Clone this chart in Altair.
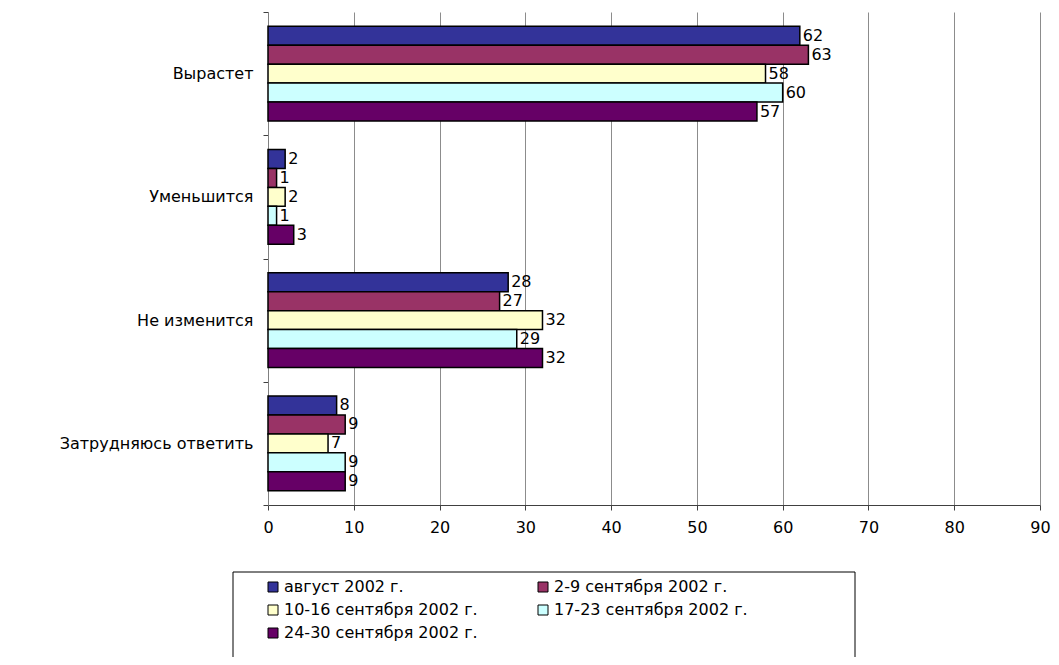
import altair as alt
import pandas as pd

categories = ["Вырастет", "Уменьшится", "Не изменится", "Затрудняюсь ответить"]
series = ["август 2002 г.", "2-9 сентября 2002 г.", "10-16 сентября 2002 г.",
          "17-23 сентября 2002 г.", "24-30 сентября 2002 г."]
colors = ["#333399", "#993366", "#FFFFCC", "#CCFFFF", "#660066"]

v_aug = [62, 2, 28, 8]
v_2_9 = [63, 1, 27, 9]
v_10_16 = [58, 2, 32, 7]
v_17_23 = [60, 1, 29, 9]
v_24_30 = [57, 3, 32, 9]
all_values = [v_aug, v_2_9, v_10_16, v_17_23, v_24_30]

rows = []
for s, vals in zip(series, all_values):
    for c, v in zip(categories, vals):
        rows.append({"cat": c, "series": s, "value": v})
df = pd.DataFrame(rows)

FONT = "DejaVu Sans"

y_enc = alt.Y("cat:N", sort=categories, title=None,
              scale=alt.Scale(paddingInner=0, paddingOuter=0),
              axis=alt.Axis(tickBand="extent", labelFontSize=16, labelFont=FONT,
                            labelColor="black", labelPadding=10, tickSize=5,
                            domainColor="#808080", tickColor="#404040",
                            labelLimit=400, grid=False))
yoff = alt.YOffset("series:N", sort=series,
                   scale=alt.Scale(paddingInner=0, paddingOuter=0.75))
x_enc = alt.X("value:Q", title=None,
              scale=alt.Scale(domain=[0, 90], nice=False),
              axis=alt.Axis(values=list(range(0, 91, 10)), grid=True,
                            gridColor="#8c8c8c", gridWidth=1,
                            domainColor="#404040", tickColor="#404040",
                            tickSize=5, labelFontSize=16, labelFont=FONT,
                            labelColor="black", labelPadding=9, labelFlush=False))

bars = alt.Chart(df).mark_bar(stroke="black", strokeWidth=1.5, opacity=1).encode(
    x=x_enc, y=y_enc, yOffset=yoff,
    color=alt.Color("series:N", sort=series,
                    scale=alt.Scale(domain=series, range=colors),
                    legend=alt.Legend(title=None, orient="none", legendX=-3, legendY=567,
                                      direction="horizontal",
                                      columns=2, columnPadding=57, rowPadding=7,
                                      symbolType="square", symbolSize=100,
                                      symbolStrokeColor="black", symbolStrokeWidth=1,
                                      symbolOpacity=1, labelFontSize=16, labelFont=FONT,
                                      labelColor="black", labelOffset=3, padding=0,
                                      labelLimit=400))
)

labels = alt.Chart(df).mark_text(align="left", baseline="middle", dx=3,
                                 fontSize=16, font=FONT, color="black").encode(
    x="value:Q", y=alt.Y("cat:N", sort=categories), yOffset=yoff,
    text="value:Q"
)

box = alt.Chart(pd.DataFrame({"a": [0]})).mark_rect(
    fill="white", fillOpacity=0, stroke="black", strokeWidth=1).encode(
    x=alt.value(-35), x2=alt.value(587), y=alt.value(560), y2=alt.value(720)
)

chart = alt.layer(box, bars, labels).properties(
    width=772, height=493,
    autosize=alt.AutoSizeParams(type="none"),
    padding={"left": 260, "top": 4, "right": 11, "bottom": 152},
    background="white"
).configure_view(stroke=None)

chart.save("out.html", embed_options={"renderer": "svg", "actions": False})
